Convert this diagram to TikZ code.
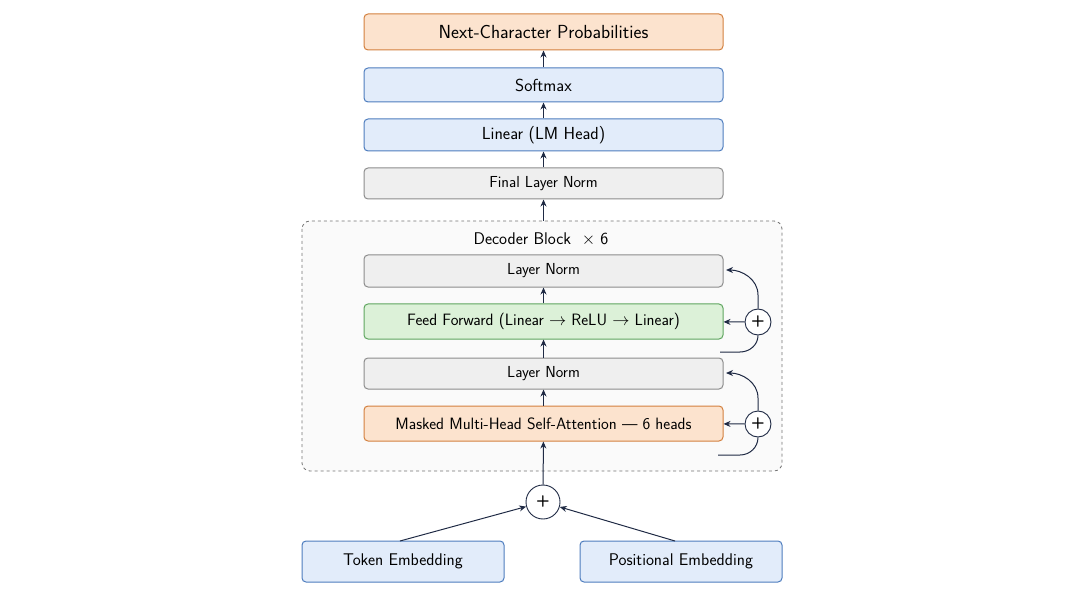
\documentclass[tikz,border=0pt]{standalone}
\usepackage{fontspec}
\usetikzlibrary{arrows.meta}
\definecolor{ao}{HTML}{1F2A44}
\definecolor{bf}{HTML}{E2ECFA}\definecolor{bd}{HTML}{4E7DBE}
\definecolor{of}{HTML}{FCE3CE}\definecolor{od}{HTML}{D3803F}
\definecolor{gf}{HTML}{EFEFEF}\definecolor{gd}{HTML}{8C8C8C}
\definecolor{nf}{HTML}{DCF1D8}\definecolor{nd}{HTML}{5FA65F}
\begin{document}
\begin{tikzpicture}[x=1bp,y=-1bp,font=\sffamily,
  box/.style={draw,rounded corners=4bp,line width=1bp,inner sep=0},
  org/.style={box,fill=of,draw=od},
  blu/.style={box,fill=bf,draw=bd},
  gry/.style={box,fill=gf,draw=gd},
  grn/.style={box,fill=nf,draw=nd},
  arr/.style={-{Stealth[length=7bp,width=6bp]},line width=1bp,draw=ao},
  pl/.style={circle,draw=ao,line width=0.9bp,fill=white,inner sep=0,font=\sffamily\bfseries\fontsize{16}{16}\selectfont}]
\useasboundingbox (0,0) rectangle (1088,608);
\draw[dashed,black!55,rounded corners=8bp,fill=black!2,line width=0.8bp] (302,221) rectangle (782,471);
\node[font=\sffamily\fontsize{17}{18}\selectfont] (title) at (541,239) {Decoder Block\ \ $\times$ 6};
\def\bx#1#2#3#4#5#6{\node[#2,minimum width=359bp,minimum height=#4bp,font=\sffamily\fontsize{#5}{20}\selectfont] (#1) at (543.5,#3) {#6};}
\bx{nc}{org}{32}{36}{19}{Next-Character Probabilities}
\bx{sm}{blu}{85}{34}{17.5}{Softmax}
\bx{lin}{blu}{135}{32}{17.5}{Linear (LM Head)}
\bx{fln}{gry}{183.5}{31}{16}{Final Layer Norm}
\bx{ln2}{gry}{271}{32}{16}{Layer Norm}
\bx{ff}{grn}{321.5}{35}{16.5}{Feed Forward (Linear $\rightarrow$ ReLU $\rightarrow$ Linear)}
\bx{ln1}{gry}{373.5}{31}{16}{Layer Norm}
\bx{att}{org}{423.5}{35}{16.5}{Masked Multi-Head Self-Attention --- 6 heads}
\node[blu,minimum width=202bp,minimum height=41bp,font=\sffamily\fontsize{17}{20}\selectfont] (tok) at (403,561.5) {Token Embedding};
\node[blu,minimum width=202bp,minimum height=41bp,font=\sffamily\fontsize{17}{20}\selectfont] (pos) at (681,561.5) {Positional Embedding};
\node[pl,minimum size=34bp] (p0) at (543,502) {+};
\node[pl,minimum size=26bp] (p2) at (758,322) {+};
\node[pl,minimum size=26bp] (p1) at (758,424) {+};
\draw[arr] (sm) -- (nc);
\draw[arr] (lin) -- (sm);
\draw[arr] (fln) -- (lin);
\draw[arr] (543.5,221) -- (fln);
\draw[arr] (ff) -- (ln2);
\draw[arr] (ln1) -- (ff);
\draw[arr] (att) -- (ln1);
\draw[arr] (p0) -- (att);
\draw[arr] (400,541) -- (p0);
\draw[arr] (675,541) -- (p0);
\draw[arr] (p2) -- (ff);
\draw[arr] (p1) -- (att);
\draw[line width=1bp,draw=ao] (720,352) -- (740,352) to[out=0,in=-90] (p2.south);
\draw[arr] (p2.north) -- (758,295) to[out=90,in=0] (726,270);
\draw[line width=1bp,draw=ao] (718,455) -- (740,455) to[out=0,in=-90] (p1.south);
\draw[arr] (p1.north) -- (758,398) to[out=90,in=0] (726,373);
\end{tikzpicture}
\end{document}
